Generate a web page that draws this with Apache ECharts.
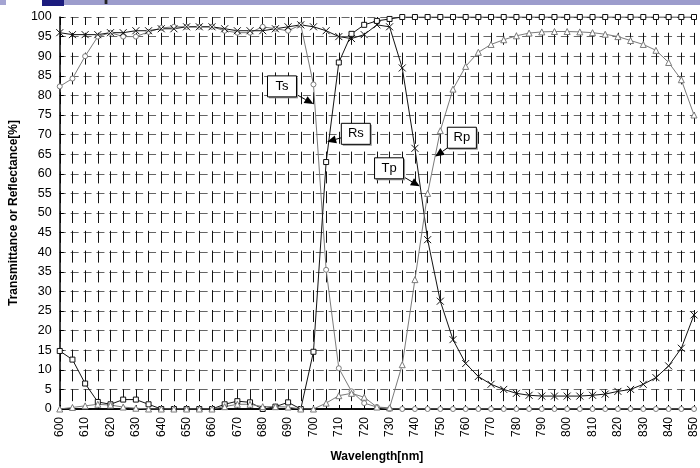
<!DOCTYPE html>
<html>
<head>
<meta charset="utf-8">
<script src="https://cdn.jsdelivr.net/npm/echarts@6/dist/echarts.min.js"></script>
<style>html,body{margin:0;padding:0;background:#fff}#c{width:700px;height:468px}</style>
</head>
<body>
<div id="c"></div>
<script>
const wavelengths = [600,605,610,615,620,625,630,635,640,645,650,655,660,665,670,675,680,685,690,695,700,705,710,715,720,725,730,735,740,745,750,755,760,765,770,775,780,785,790,795,800,805,810,815,820,825,830,835,840,845,850];
const Ts = [82.3,84.3,90,95,96,95,95,96.2,97.2,97.5,97.5,97.5,97.5,96.5,96,96,97.5,97,96.5,98,82.8,35.5,10.4,4.5,1.5,0.5,0,0,0,0,0,0,0,0,0,0,0,0,0,0,0,0,0,0,0,0,0,0,0,0,0];
const Rs = [14.8,12.6,6.5,1.8,1.2,2.4,2.4,1.2,0,0,0,0,0,1.2,2,1.7,0,0.6,1.7,0,14.6,63,88.4,95.7,98,99,99.5,100,100,100,100,100,100,100,100,100,100,100,100,100,100,100,100,100,100,100,100,100,100,100,100];
const Tp = [96,95.5,95.5,95.5,96,96,96.5,96.5,97,97,97.5,97.5,97.5,97,96.5,96.5,96.5,97,97.5,98,97.5,96.5,95,94.5,95.5,98,97.5,87,66.5,43.2,27.5,17.7,11.6,8.3,6.3,5,4,3.5,3.3,3.3,3.3,3.3,3.5,3.8,4.5,5,6.3,8,11,15.5,24];
const Rp = [0,0.4,0.8,1.2,1,0.5,0.2,0,0,0,0,0,0,0.6,1.2,1.2,0.6,0.6,0.5,0,0,1.5,3.4,4,3,0.5,0.3,11.3,33,55,71,81.6,87.4,91,93,94.2,95.2,95.9,96.2,96.3,96.3,96.2,96,95.6,95,94,93,91.5,88.4,84,75];
const yTicks = [0,5,10,15,20,25,30,35,40,45,50,55,60,65,70,75,80,85,90,95,100];
// annotation: label, box centre (data), arrow tip (data)
const annLabels = ['Ts','Rs','Tp','Rp'];
const annBox = [[687.6,82.3],[716.7,70.2],[729.8,61.4],[758.5,69.2]];
const annTip = [[700,77.8],[705.4,68.2],[741.9,56.8],[748,64.4]];

const FONT = '"Liberation Sans", Arial, sans-serif';
const chart = echarts.init(document.getElementById('c'), null, {renderer:'canvas'});
function pairs(arr){ return wavelengths.map((w,i)=>[w,arr[i]]); }
function ser(name, data, symbol, color, size){
  return {name, type:'line', data:pairs(data), symbol, symbolSize:size, showSymbol:true,
    lineStyle:{color, width:1}, itemStyle:{color: symbol.startsWith('path')?'none':'#fff', borderColor:color, borderWidth:1},
    emphasis:{disabled:true}, animation:false, z:3};
}
const option = {
  animation:false,
  grid:{left:55, right:0, top:17, bottom:55, containLabel:false},
  xAxis:[{
    type:'value', min:600, max:850, interval:5,
    axisLine:{show:true, onZero:false, lineStyle:{color:'#000', width:1.5}},
    axisTick:{show:true, inside:true, length:4, lineStyle:{color:'#000'}},
    axisLabel:{rotate:90, fontSize:12, color:'#000', fontFamily:FONT, margin:8,
      formatter:v=> (v%10===0? String(v): '')},
    splitLine:{show:true, lineStyle:{color:'#111', width:1, type:[12,7.8], dashOffset:4}},
    name:'Wavelength[nm]', nameLocation:'middle', nameGap:42,
    nameTextStyle:{fontSize:12, fontWeight:'bold', color:'#000', fontFamily:FONT}
  },{
    type:'value', position:'top', min:600, max:850,
    axisLine:{show:true, lineStyle:{color:'#000', width:1.5}},
    axisTick:{show:false}, axisLabel:{show:false}, splitLine:{show:false}
  }],
  yAxis:{
    type:'value', min:0, max:100, interval:5,
    axisLine:{show:true, lineStyle:{color:'#000', width:1.5}},
    axisTick:{show:true, inside:true, length:4, lineStyle:{color:'#000'}},
    axisLabel:{fontSize:12.5, color:'#000', fontFamily:FONT, margin:8},
    splitLine:{show:true, lineStyle:{color:'#666', width:1, type:[8,4.9], dashOffset:2}},
    name:'Transmittance or Reflectance[%]', nameLocation:'middle', nameGap:32, nameRotate:90,
    nameTextStyle:{fontSize:12, fontWeight:'bold', color:'#000', fontFamily:FONT}
  },
  series:[
    ser('Ts', Ts, 'circle', '#7a7a7a', 5),
    ser('Rs', Rs, 'rect', '#111', 5),
    ser('Tp', Tp, 'path://M0,0L10,10M10,0L0,10', '#111', 7),
    ser('Rp', Rp, 'triangle', '#7a7a7a', 6)
  ]
};
chart.setOption(option);

const g = [
  {type:'rect', shape:{x:0,y:0,width:6,height:5}, style:{fill:'#a4a4d2'}, z:10},
  {type:'rect', shape:{x:64,y:0,width:636,height:5}, style:{fill:'#9c9ccc'}, z:10},
  {type:'rect', shape:{x:42,y:0,width:22,height:6}, style:{fill:'#1c1c7e'}, z:11},
  {type:'text', x:90, y:4, style:{text:'Spectral Characteristics', font:'bold 20px '+FONT, fill:'#222', align:'left', verticalAlign:'bottom'}, z:12}
];
annLabels.forEach((lab,i)=>{
  const c = chart.convertToPixel({xAxisIndex:0,yAxisIndex:0}, annBox[i]);
  const t = chart.convertToPixel({xAxisIndex:0,yAxisIndex:0}, annTip[i]);
  const w = 29, h = 21;
  const dx = t[0]-c[0], dy = t[1]-c[1];
  const sx = Math.min(Math.abs((w/2)/ (dx||1e-6)), Math.abs((h/2)/(dy||1e-6)));
  const s = [c[0]+dx*sx, c[1]+dy*sx];
  const len = Math.hypot(dx,dy), ux = dx/len, uy = dy/len;
  const hl = 9, hw = 4;
  const b = [t[0]-ux*hl, t[1]-uy*hl];
  g.push({type:'line', shape:{x1:s[0],y1:s[1],x2:b[0],y2:b[1]}, style:{stroke:'#000', lineWidth:1}, z:20});
  g.push({type:'polygon', shape:{points:[t,[b[0]-uy*hw,b[1]+ux*hw],[b[0]+uy*hw,b[1]-ux*hw]]}, style:{fill:'#000'}, z:20});
  g.push({type:'rect', shape:{x:c[0]-w/2+1.5,y:c[1]-h/2+1.5,width:w,height:h}, style:{fill:'#999'}, z:20});
  g.push({type:'rect', shape:{x:c[0]-w/2,y:c[1]-h/2,width:w,height:h}, style:{fill:'#fff', stroke:'#000', lineWidth:1}, z:21});
  g.push({type:'text', x:c[0], y:c[1], style:{text:lab, font:'13px '+FONT, fill:'#000', align:'center', verticalAlign:'middle'}, z:22});
});
chart.setOption({graphic:g});
</script>
</body>
</html>
